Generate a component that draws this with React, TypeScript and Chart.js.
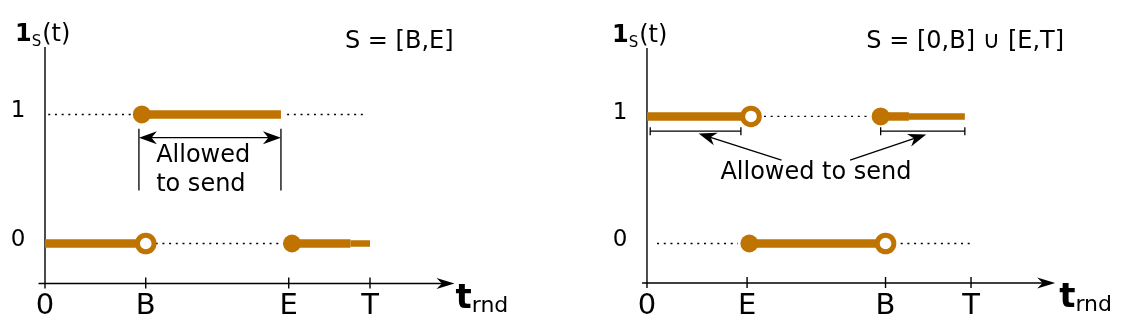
import React, { useEffect, useRef } from 'react';
import { Chart, registerables } from 'chart.js';

Chart.register(...registerables);

type Pt = { x: number; y: number };

const ORANGE = 'rgb(191,115,0)';
const FONT = '"DejaVu Sans", "Liberation Sans", sans-serif';

// ---------- Left panel: S = [B,E] ----------
const leftTickLabels = ['0', 'B', 'E', 'T'];
const leftTickValues = [0, 3.1, 7.5, 10];
const leftYTickLabels = ['1', '0'];
const leftYTickValues = [1, 0];
const leftThickSegments: Pt[][] = [
  [{ x: 2.98, y: 1 }, { x: 7.26, y: 1 }],
  [{ x: 0, y: 0 }, { x: 3.1, y: 0 }],
  [{ x: 7.6, y: 0 }, { x: 9.4, y: 0 }],
];
const leftThinSegments: Pt[][] = [[{ x: 9.4, y: 0 }, { x: 10, y: 0 }]];
const leftDottedSegments: Pt[][] = [
  [{ x: 0.1, y: 1 }, { x: 2.7, y: 1 }],
  [{ x: 7.45, y: 1 }, { x: 9.9, y: 1 }],
  [{ x: 3.2, y: 0 }, { x: 7.5, y: 0 }],
];
const leftFilledPoints: Pt[] = [{ x: 2.98, y: 1 }, { x: 7.6, y: 0 }];
const leftOpenPoints: Pt[] = [{ x: 3.1, y: 0 }];
const leftTitle = 'S = [B,E]';
const leftNote = ['Allowed', 'to send'];

// ---------- Right panel: S = [0,B] ∪ [E,T] ----------
const rightTickLabels = ['0', 'E', 'B', 'T'];
const rightTickValues = [0, 3.08, 7.34, 9.97];
const rightYTickLabels = ['1', '0'];
const rightYTickValues = [1, 0];
const rightThickSegments: Pt[][] = [
  [{ x: 0, y: 1 }, { x: 3.2, y: 1 }],
  [{ x: 7.19, y: 1 }, { x: 8.06, y: 1 }],
  [{ x: 3.15, y: 0 }, { x: 7.34, y: 0 }],
];
const rightThinSegments: Pt[][] = [[{ x: 8.06, y: 1 }, { x: 9.78, y: 1 }]];
const rightDottedSegments: Pt[][] = [
  [{ x: 3.6, y: 1 }, { x: 6.8, y: 1 }],
  [{ x: 0.31, y: 0 }, { x: 2.8, y: 0 }],
  [{ x: 7.6, y: 0 }, { x: 10.03, y: 0 }],
];
const rightFilledPoints: Pt[] = [{ x: 7.19, y: 1 }, { x: 3.15, y: 0 }];
const rightOpenPoints: Pt[] = [{ x: 3.2, y: 1 }, { x: 7.34, y: 0 }];
const rightTitle = 'S = [0,B] \u222A [E,T]';
const rightNote = ['Allowed to send'];

type Panel = {
  id: string;
  tickLabels: string[];
  tickValues: number[];
  yTickLabels: string[];
  yTickValues: number[];
  thick: Pt[][];
  thin: Pt[][];
  dotted: Pt[][];
  filled: Pt[];
  open: Pt[];
  title: string;
  note: string[];
  layout: any;
};

const panels: Panel[] = [
  {
    id: 'left',
    tickLabels: leftTickLabels,
    tickValues: leftTickValues,
    yTickLabels: leftYTickLabels,
    yTickValues: leftYTickValues,
    thick: leftThickSegments,
    thin: leftThinSegments,
    dotted: leftDottedSegments,
    filled: leftFilledPoints,
    open: leftOpenPoints,
    title: leftTitle,
    note: leftNote,
    layout: {
      xMin: -0.2, xMax: 12.6, yMin: -0.31, yMax: 1.523,
      padding: { left: 38.5, right: 111.5, top: 47, bottom: 47.5 },
      titleX: 9.23,
      guides: { xs: [2.89, 7.26], yTop: 0.89, yBottom: 0.41, arrowY: 0.82 },
      noteAt: { x: 3.42, ys: [0.683, 0.452], align: 'left' },
      tOffset: 1,
      yTitleDx: -30,
    },
  },
  {
    id: 'right',
    tickLabels: rightTickLabels,
    tickValues: rightTickValues,
    yTickLabels: rightYTickLabels,
    yTickValues: rightYTickValues,
    thick: rightThickSegments,
    thin: rightThinSegments,
    dotted: rightDottedSegments,
    filled: rightFilledPoints,
    open: rightOpenPoints,
    title: rightTitle,
    note: rightNote,
    layout: {
      xMin: -0.15, xMax: 12.56, yMin: -0.311, yMax: 1.539,
      padding: { left: 76.1, right: 76.8, top: 48, bottom: 48 },
      titleX: 6.75,
      brackets: [{ x0: 0.1, x1: 2.89 }, { x0: 7.19, x1: 9.78 }],
      bracketY: 0.884,
      arrows: [
        { fx: 4.14, fy: 0.656, tx: 1.59, ty: 0.866 },
        { fx: 6.25, fy: 0.656, tx: 8.59, ty: 0.858 },
      ],
      noteAt: { x: 5.2, ys: [0.557], align: 'center' },
      tOffset: 4,
      yTitleDx: -35,
    },
  },
];

function arrowHead(ctx: CanvasRenderingContext2D, x: number, y: number, ang: number, len: number, half: number) {
  ctx.save();
  ctx.translate(x, y);
  ctx.rotate(ang);
  ctx.beginPath();
  ctx.moveTo(0, 0);
  ctx.lineTo(-len, -half);
  ctx.lineTo(-len * 0.7, 0);
  ctx.lineTo(-len, half);
  ctx.closePath();
  ctx.fillStyle = '#000';
  ctx.fill();
  ctx.restore();
}

function makePlugin(p: Panel) {
  const L = p.layout;
  return {
    id: 'diagram_' + p.id,
    beforeDatasetsDraw(chart: any) {
      const ctx: CanvasRenderingContext2D = chart.ctx;
      const xs = chart.scales.x;
      const ys = chart.scales.y;
      const area = chart.chartArea;
      const x0 = xs.getPixelForValue(0);
      const yb = area.bottom;
      ctx.save();
      ctx.strokeStyle = '#000';
      ctx.lineWidth = 1.4;
      ctx.beginPath();
      ctx.moveTo(x0, area.top);
      ctx.lineTo(x0, yb + 5);
      ctx.moveTo(area.left, yb);
      ctx.lineTo(area.right - 8, yb);
      p.tickValues.forEach((v) => {
        if (v === 0) return;
        const px = xs.getPixelForValue(v);
        ctx.moveTo(px, yb - 6);
        ctx.lineTo(px, yb + 5);
      });
      ctx.stroke();
      arrowHead(ctx, area.right, yb, 0, 18, 5.5);

      ctx.fillStyle = '#000';
      ctx.textAlign = 'center';
      ctx.textBaseline = 'middle';
      ctx.font = `29px ${FONT}`;
      p.tickValues.forEach((v, i) => {
        ctx.fillText(p.tickLabels[i], xs.getPixelForValue(v), yb + 23);
      });
      ctx.font = `23px ${FONT}`;
      p.yTickValues.forEach((v, i) => {
        ctx.fillText(p.yTickLabels[i], x0 - 27, ys.getPixelForValue(v) - 3.5);
      });

      // y-axis title 1_S(t)
      ctx.textAlign = 'left';
      ctx.textBaseline = 'alphabetic';
      let tx = x0 + L.yTitleDx;
      const base = area.top - 6;
      ctx.font = `bold 24px ${FONT}`;
      ctx.fillText('1', tx, base);
      tx += ctx.measureText('1').width;
      ctx.font = `15px ${FONT}`;
      ctx.fillText('S', tx, base + 5);
      tx += ctx.measureText('S').width + 1;
      ctx.font = `24px ${FONT}`;
      ctx.fillText('(t)', tx, base);

      // x-axis title t_rnd
      let rx = area.right + L.tOffset;
      ctx.font = `bold 34px ${FONT}`;
      ctx.fillText('t', rx, yb + 24);
      rx += ctx.measureText('t').width;
      ctx.font = `22px ${FONT}`;
      ctx.fillText('rnd', rx, yb + 28);

      // panel title
      ctx.font = `24px ${FONT}`;
      ctx.textBaseline = 'middle';
      ctx.fillText(p.title, xs.getPixelForValue(L.titleX), 42);
      ctx.restore();
    },
    afterDatasetsDraw(chart: any) {
      const ctx: CanvasRenderingContext2D = chart.ctx;
      const xs = chart.scales.x;
      const ys = chart.scales.y;
      ctx.save();
      ctx.strokeStyle = '#000';
      ctx.fillStyle = '#000';
      ctx.lineWidth = 1.3;
      if (L.guides) {
        const g = L.guides;
        const xa = xs.getPixelForValue(g.xs[0]);
        const xb = xs.getPixelForValue(g.xs[1]);
        const yt = ys.getPixelForValue(g.yTop);
        const ybt = ys.getPixelForValue(g.yBottom);
        const ya = ys.getPixelForValue(g.arrowY);
        ctx.beginPath();
        ctx.moveTo(xa, yt);
        ctx.lineTo(xa, ybt);
        ctx.moveTo(xb, yt);
        ctx.lineTo(xb, ybt);
        ctx.moveTo(xa + 8, ya);
        ctx.lineTo(xb - 8, ya);
        ctx.stroke();
        arrowHead(ctx, xa, ya, Math.PI, 18, 6.5);
        arrowHead(ctx, xb, ya, 0, 18, 6.5);
      }
      if (L.brackets) {
        const by = ys.getPixelForValue(L.bracketY);
        ctx.beginPath();
        L.brackets.forEach((b: any) => {
          const a = xs.getPixelForValue(b.x0);
          const c = xs.getPixelForValue(b.x1);
          ctx.moveTo(a, by);
          ctx.lineTo(c, by);
          ctx.moveTo(a, by - 4);
          ctx.lineTo(a, by + 4);
          ctx.moveTo(c, by - 4);
          ctx.lineTo(c, by + 4);
        });
        ctx.stroke();
      }
      if (L.arrows) {
        L.arrows.forEach((a: any) => {
          const fx = xs.getPixelForValue(a.fx);
          const fy = ys.getPixelForValue(a.fy);
          const tx = xs.getPixelForValue(a.tx);
          const ty = ys.getPixelForValue(a.ty);
          const ang = Math.atan2(ty - fy, tx - fx);
          ctx.beginPath();
          ctx.moveTo(fx, fy);
          ctx.lineTo(tx - Math.cos(ang) * 10, ty - Math.sin(ang) * 10);
          ctx.stroke();
          arrowHead(ctx, tx, ty, ang, 18, 6.5);
        });
      }
      ctx.font = `24px ${FONT}`;
      ctx.textAlign = L.noteAt.align;
      ctx.textBaseline = 'middle';
      p.note.forEach((line, i) => {
        ctx.fillText(line, xs.getPixelForValue(L.noteAt.x), ys.getPixelForValue(L.noteAt.ys[i]));
      });
      ctx.restore();
    },
  };
}

function buildConfig(p: Panel): any {
  const L = p.layout;
  const datasets: any[] = [
    ...p.dotted.map((d) => ({
      type: 'line', data: d, borderColor: '#000', borderWidth: 1.3, borderDash: [2, 4.7],
      pointRadius: 0, order: 3, clip: false, fill: false,
    })),
    ...p.thick.map((d) => ({
      type: 'line', data: d, borderColor: ORANGE, borderWidth: 8.5, borderCapStyle: 'butt',
      pointRadius: 0, order: 2, clip: false, fill: false,
    })),
    ...p.thin.map((d) => ({
      type: 'line', data: d, borderColor: ORANGE, borderWidth: 6.5, borderCapStyle: 'butt',
      pointRadius: 0, order: 2, clip: false, fill: false,
    })),
    {
      type: 'scatter', data: p.filled, pointRadius: 9, pointBackgroundColor: ORANGE,
      pointBorderColor: ORANGE, pointBorderWidth: 0, order: 1, clip: false,
    },
    {
      type: 'scatter', data: p.open, pointRadius: 8.3, pointBackgroundColor: '#fff',
      pointBorderColor: ORANGE, pointBorderWidth: 5, order: 0, clip: false,
    },
  ];
  return {
    type: 'line',
    data: { datasets },
    options: {
      animation: false,
      responsive: false,
      events: [],
      layout: { padding: L.padding },
      scales: {
        x: { type: 'linear', min: L.xMin, max: L.xMax, display: false },
        y: { type: 'linear', min: L.yMin, max: L.yMax, display: false },
      },
      plugins: { legend: { display: false }, tooltip: { enabled: false } },
    },
    plugins: [makePlugin(p)],
  };
}

function PanelChart({ panel }: { panel: Panel }) {
  const ref = useRef<HTMLCanvasElement | null>(null);
  useEffect(() => {
    if (!ref.current) return;
    const chart = new Chart(ref.current, buildConfig(panel));
    return () => chart.destroy();
  }, [panel]);
  return <canvas ref={ref} width={566} height={331} style={{ display: 'block', width: 566, height: 331 }} />;
}

export default function App() {
  return (
    <div style={{ position: 'absolute', left: 0, top: 0, width: 1132, height: 331, background: '#fff', display: 'flex' }}>
      {panels.map((p) => (
        <PanelChart key={p.id} panel={p} />
      ))}
    </div>
  );
}
